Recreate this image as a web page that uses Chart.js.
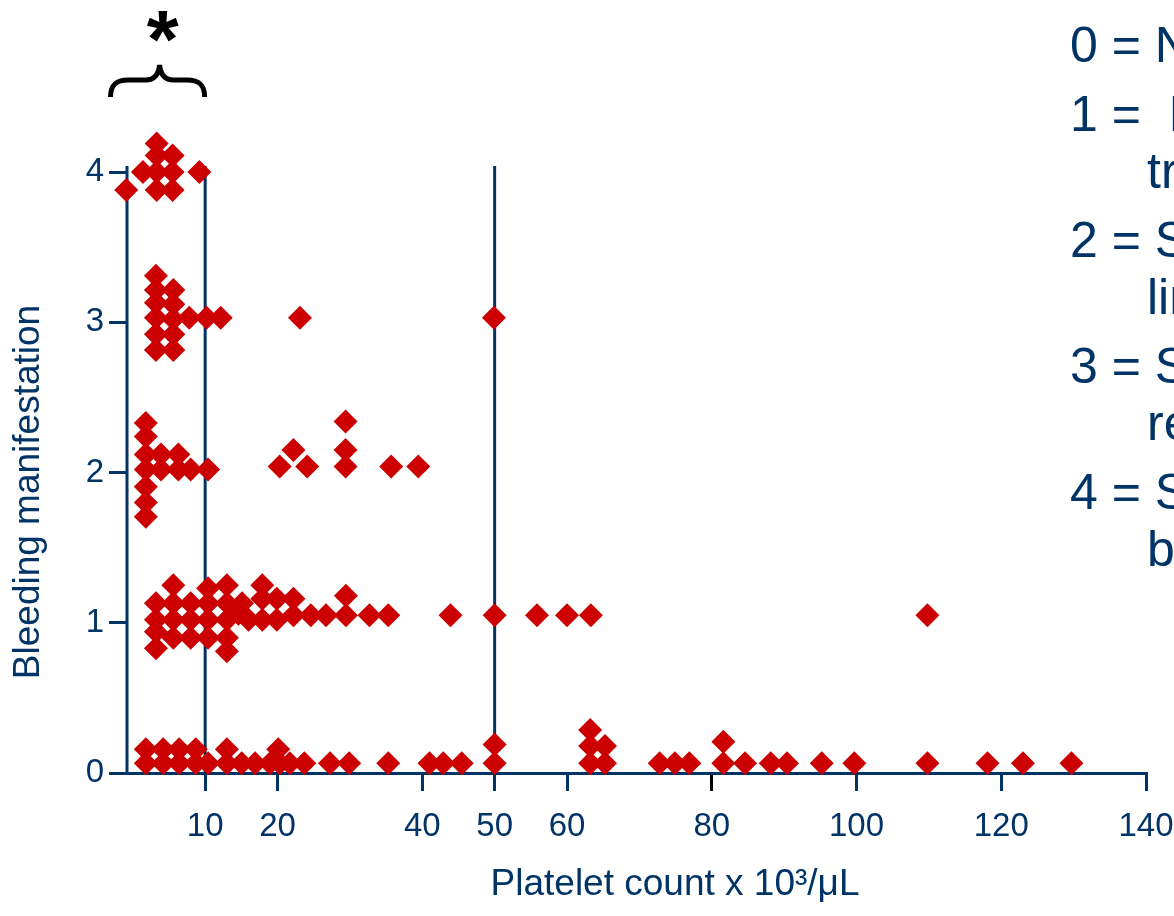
<!DOCTYPE html>
<html>
<head>
<meta charset="utf-8">
<script src="https://cdn.jsdelivr.net/npm/chart.js@4.4.0/dist/chart.umd.min.js"></script>
<style>
  html, body { margin: 0; padding: 0; background: #fff; }
  #wrap { width: 1174px; height: 916px; position: relative; }
</style>
</head>
<body>
<div id="wrap"><canvas id="chart"></canvas></div>
<script>
// platelet count (x 10^3/uL) and plotted height, one list per bleeding grade
var grade0 = [
  [1.8, 0.158], [4.2, 0.158], [6.4, 0.158], [8.7, 0.158], [13.0, 0.158], [20.1, 0.158],
  [1.8, 0.065], [4.2, 0.065], [6.4, 0.065], [8.7, 0.065], [10.4, 0.065], [13.0, 0.065],
  [15.05, 0.065], [16.9, 0.065], [18.96, 0.065], [20.3, 0.065], [21.7, 0.065], [23.7, 0.065],
  [27.25, 0.065], [29.9, 0.065], [35.3, 0.065], [41.0, 0.065], [42.9, 0.065], [45.45, 0.065],
  [50.0, 0.19], [50.0, 0.065],
  [63.2, 0.286], [63.2, 0.18], [63.2, 0.065], [65.25, 0.18], [65.25, 0.065],
  [72.8, 0.065], [74.9, 0.065], [76.9, 0.065], [81.6, 0.208], [81.6, 0.065],
  [84.6, 0.065], [88.15, 0.065], [90.4, 0.065], [95.2, 0.065], [99.7, 0.065],
  [109.8, 0.065], [118.1, 0.065], [123.0, 0.065], [129.7, 0.065]
];
var grade1 = [
  [3.2, 1.13], [3.2, 1.02], [3.2, 0.94], [3.2, 0.83],
  [5.6, 1.25], [5.6, 1.13], [5.6, 1.02], [5.6, 0.90],
  [8.0, 1.13], [8.0, 1.02], [8.0, 0.90],
  [10.4, 1.23], [10.4, 1.13], [10.4, 1.02], [10.4, 0.90],
  [13.0, 1.25], [13.0, 1.13], [13.0, 1.02], [13.0, 0.90], [13.0, 0.81],
  [15.1, 1.13], [14.6, 1.06], [16.0, 1.02],
  [17.9, 1.25], [17.9, 1.16], [17.9, 1.02],
  [19.9, 1.16], [19.9, 1.02], [22.2, 1.16], [22.2, 1.05],
  [24.6, 1.05], [26.7, 1.05], [29.45, 1.18], [29.45, 1.05],
  [32.7, 1.05], [35.3, 1.05], [43.9, 1.05], [50.0, 1.05],
  [55.85, 1.05], [60.0, 1.05], [63.3, 1.05], [109.8, 1.05]
];
var grade2 = [
  [1.8, 2.33], [1.8, 2.24], [1.8, 2.12], [1.8, 2.02], [1.8, 1.905], [1.8, 1.80], [1.8, 1.705],
  [3.9, 2.12], [3.9, 2.02], [6.3, 2.12], [6.3, 2.02], [8.0, 2.02], [10.4, 2.02],
  [20.3, 2.04], [22.2, 2.15], [24.1, 2.04],
  [29.4, 2.34], [29.4, 2.15], [29.4, 2.04], [35.7, 2.04], [39.45, 2.04]
];
var grade3 = [
  [3.2, 3.31], [3.2, 3.215], [3.2, 3.13], [3.2, 3.03], [3.2, 2.92], [3.2, 2.815],
  [5.6, 3.215], [5.6, 3.12], [5.6, 3.02], [5.6, 2.92], [5.6, 2.815],
  [7.8, 3.03], [10.2, 3.03], [12.15, 3.03], [23.1, 3.03], [49.9, 3.03]
];
var grade4 = [
  [-0.9, 4.075], [-0.9, 4.0], [-0.9, 3.88], [1.4, 4.0],
  [3.3, 4.19], [3.3, 4.11], [3.3, 4.0], [3.3, 3.88],
  [5.5, 4.11], [5.5, 4.0], [5.5, 3.88], [9.2, 4.0]
];

var xMin = -0.8, xMax = 140;
var yMin = 0, yMax = 4.3, lineTop = 4.04;
var xTicks = [10, 20, 40, 50, 60, 80, 100, 120, 140];
var yTicks = [0, 1, 2, 3, 4];
var cutoffLines = [10, 50];
var blackTick = 80;

var xTitle = 'Platelet count x 10\u00b3/\u03bcL';
var yTitle = 'Bleeding manifestation';
var legendItems = [
  ['0 = No bleeding'],
  ['1 =  Minor bleeding,', 'trivial'],
  ['2 = Significant,', 'limited'],
  ['3 = Severe,', 'requiring transfusion'],
  ['4 = Severe,', 'bleeding']
];

var NAVY = '#003366';
var RED = '#cc0000';
var FONT = '"Liberation Sans", Arial, Helvetica, sans-serif';

function toPoints(list) {
  return list.map(function(p) { return { x: p[0], y: p[1] }; });
}

// titles, legend text and the brace with asterisk over the <10 group
var annotations = {
  id: 'annotations',
  afterDraw: function(chart) {
    var ctx = chart.ctx;
    var area = chart.chartArea;
    var xs = chart.scales.x;
    ctx.save();
    ctx.fillStyle = NAVY;
    ctx.font = '37px ' + FONT;
    ctx.textAlign = 'center';
    ctx.textBaseline = 'middle';
    ctx.fillText(xTitle, 675, area.bottom + 112);

    ctx.save();
    ctx.translate(29, 492);
    ctx.rotate(-Math.PI / 2);
    ctx.fillText(yTitle, 0, 0);
    ctx.restore();

    // legend text, cut off by the right edge as in the figure
    ctx.font = '50px ' + FONT;
    ctx.textAlign = 'left';
    ctx.textBaseline = 'alphabetic';
    var y = 62;
    legendItems.forEach(function(item, i) {
      if (i > 0) y += 69;
      ctx.fillText(item[0], chart.width - 104, y);
      for (var k = 1; k < item.length; k++) {
        y += 57;
        ctx.fillText(item[k], chart.width - 27, y);
      }
    });

    // brace
    var L = area.left - 19;
    var R = xs.getPixelForValue(cutoffLines[0]) + 2;
    var mid = (L + R) / 2 + 2;
    ctx.strokeStyle = '#000';
    ctx.lineWidth = 5;
    ctx.beginPath();
    ctx.moveTo(L + 2.5, 97);
    ctx.bezierCurveTo(L + 2.5, 85, L + 8, 80, L + 20, 80);
    ctx.lineTo(mid - 14, 80);
    ctx.bezierCurveTo(mid - 6, 80, mid - 1, 75, mid, 65);
    ctx.bezierCurveTo(mid + 1, 75, mid + 6, 80, mid + 14, 80);
    ctx.lineTo(R - 20, 80);
    ctx.bezierCurveTo(R - 8, 80, R - 2.5, 85, R - 2.5, 97);
    ctx.stroke();

    ctx.fillStyle = '#000';
    ctx.font = 'bold 82px ' + FONT;
    ctx.textAlign = 'center';
    ctx.fillText('*', mid + 3, 67);
    ctx.restore();
  }
};

var grades = [grade0, grade1, grade2, grade3, grade4];

// the y axis line and the cut-off lines at 10 and 50
var lineSets = [xMin].concat(cutoffLines).map(function(v) {
  return {
    label: 'line ' + v,
    data: [{ x: v, y: yMin }, { x: v, y: lineTop }],
    showLine: true,
    borderColor: NAVY,
    borderWidth: 3,
    pointRadius: 0,
    clip: false,
    order: 2
  };
});

var dotSets = grades.map(function(g, i) {
  return {
    label: 'Grade ' + i,
    data: toPoints(g),
    pointStyle: 'rectRot',
    pointRadius: 12,
    pointHoverRadius: 12,
    backgroundColor: RED,
    borderWidth: 0,
    clip: false,
    order: 1
  };
});

new Chart(document.getElementById('chart'), {
  type: 'scatter',
  data: { datasets: lineSets.concat(dotSets) },
  options: {
    responsive: true,
    maintainAspectRatio: false,
    animation: false,
    events: [],
    layout: { padding: { top: 127, right: 28, bottom: 0, left: 0 } },
    plugins: { legend: { display: false }, tooltip: { enabled: false } },
    scales: {
      x: {
        type: 'linear',
        min: xMin,
        max: xMax,
        afterBuildTicks: function(s) { s.ticks = xTicks.map(function(v) { return { value: v }; }); },
        afterFit: function(s) { s.height = 143; s.paddingLeft = 0; s.paddingRight = 0; },
        grid: {
          drawOnChartArea: false,
          color: NAVY,
          lineWidth: 3,
          tickColor: function(c) {
            return c.tick && c.tick.value === blackTick ? '#000' : NAVY;
          },
          tickLength: 18,
          tickWidth: 3
        },
        border: { display: true, color: NAVY, width: 3 },
        ticks: {
          color: NAVY,
          font: { family: FONT, size: 33 },
          padding: 16,
          autoSkip: false,
          maxRotation: 0
        }
      },
      y: {
        type: 'linear',
        min: yMin,
        max: yMax,
        afterBuildTicks: function(s) { s.ticks = yTicks.map(function(v) { return { value: v }; }); },
        afterFit: function(s) { s.width = 127; s.paddingTop = 0; s.paddingBottom = 0; },
        grid: {
          drawOnChartArea: false,
          color: NAVY,
          lineWidth: 3,
          tickLength: 18,
          tickWidth: 3
        },
        border: { display: false },
        ticks: {
          color: NAVY,
          font: { family: FONT, size: 33 },
          padding: 5
        }
      }
    }
  },
  plugins: [annotations]
});
</script>
</body>
</html>
